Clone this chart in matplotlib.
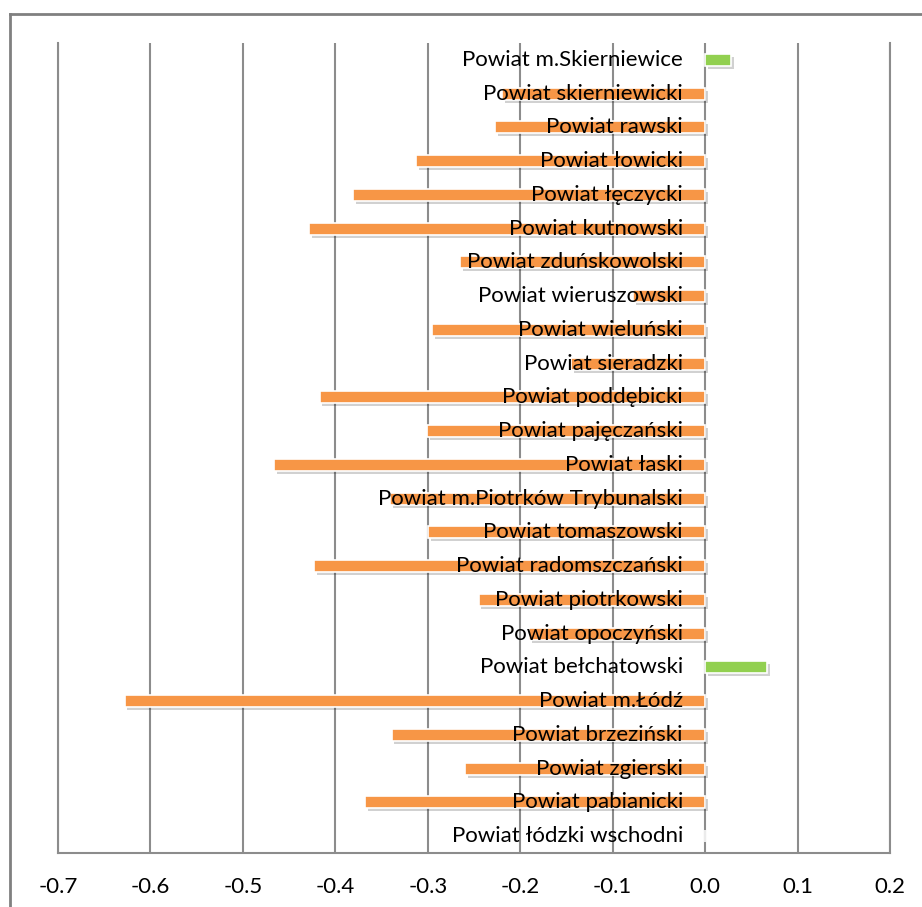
import matplotlib
matplotlib.use("Agg")
import matplotlib.pyplot as plt
from matplotlib.lines import Line2D
import numpy as np

# Dane: powiaty (od góry do dołu) i wartości
powiaty = [
    "Powiat m.Skierniewice", "Powiat skierniewicki", "Powiat rawski",
    "Powiat łowicki", "Powiat łęczycki", "Powiat kutnowski",
    "Powiat zduńskowolski", "Powiat wieruszowski", "Powiat wieluński",
    "Powiat sieradzki", "Powiat poddębicki", "Powiat pajęczański",
    "Powiat łaski", "Powiat m.Piotrków Trybunalski", "Powiat tomaszowski",
    "Powiat radomszczański", "Powiat piotrkowski", "Powiat opoczyński",
    "Powiat bełchatowski", "Powiat m.Łódź", "Powiat brzeziński",
    "Powiat zgierski", "Powiat pabianicki", "Powiat łódzki wschodni",
]
wartosci = [
    0.028, -0.220, -0.227,
    -0.313, -0.381, -0.428,
    -0.265, -0.078, -0.295,
    -0.145, -0.417, -0.301,
    -0.466, -0.341, -0.300,
    -0.423, -0.245, -0.190,
    0.067, -0.628, -0.339,
    -0.260, -0.368, 0.0,
]
x_ticks = [-0.7, -0.6, -0.5, -0.4, -0.3, -0.2, -0.1, 0.0, 0.1, 0.2]

ORANJE = "#F79646"
GROEN = "#92D050"
GRIJS = "#8C8C8C"

plt.rcParams["font.family"] = ["Lato", "DejaVu Sans"]

fig = plt.figure(figsize=(9.22, 9.07), dpi=100)
ax = fig.add_axes([58 / 922, 1 - 853 / 907, 832 / 922, 810 / 907])

y = np.arange(len(powiaty))
kleuren = [GROEN if v > 0 else ORANJE for v in wartosci]

# schaduw
ax.barh(y + 0.09, wartosci, height=0.36, left=0.003, color="#000000",
        alpha=0.18, zorder=2, linewidth=0)
ax.barh(y, wartosci, height=0.36, color=kleuren, edgecolor="white",
        linewidth=1.2, zorder=3)

for i, naam in enumerate(powiaty):
    ax.text(-0.024, i, naam, ha="right", va="center", fontsize=16,
            color="black", zorder=4)

ax.set_xlim(-0.7, 0.2)
ax.set_ylim(len(powiaty) - 0.5, -0.5)
ax.set_xticks(x_ticks)
ax.set_xticklabels([f"{t:.1f}" for t in x_ticks], fontsize=16)
ax.set_yticks([])
ax.tick_params(axis="x", length=0, pad=17)
ax.grid(axis="x", color=GRIJS, linewidth=1.5, zorder=1)
ax.set_axisbelow(True)

ax.spines["top"].set_visible(False)
for kant in ["left", "right", "bottom"]:
    ax.spines[kant].set_color(GRIJS)
    ax.spines[kant].set_linewidth(1.5)

# kader rond de grafiek
fig.add_artist(Line2D([10 / 922, 10 / 922], [0, 1 - 14 / 907],
                      transform=fig.transFigure, color="#808080", linewidth=2))
fig.add_artist(Line2D([10 / 922, 1], [1 - 14 / 907, 1 - 14 / 907],
                      transform=fig.transFigure, color="#808080", linewidth=2))

fig.savefig("out.png", dpi=100, facecolor="white")
